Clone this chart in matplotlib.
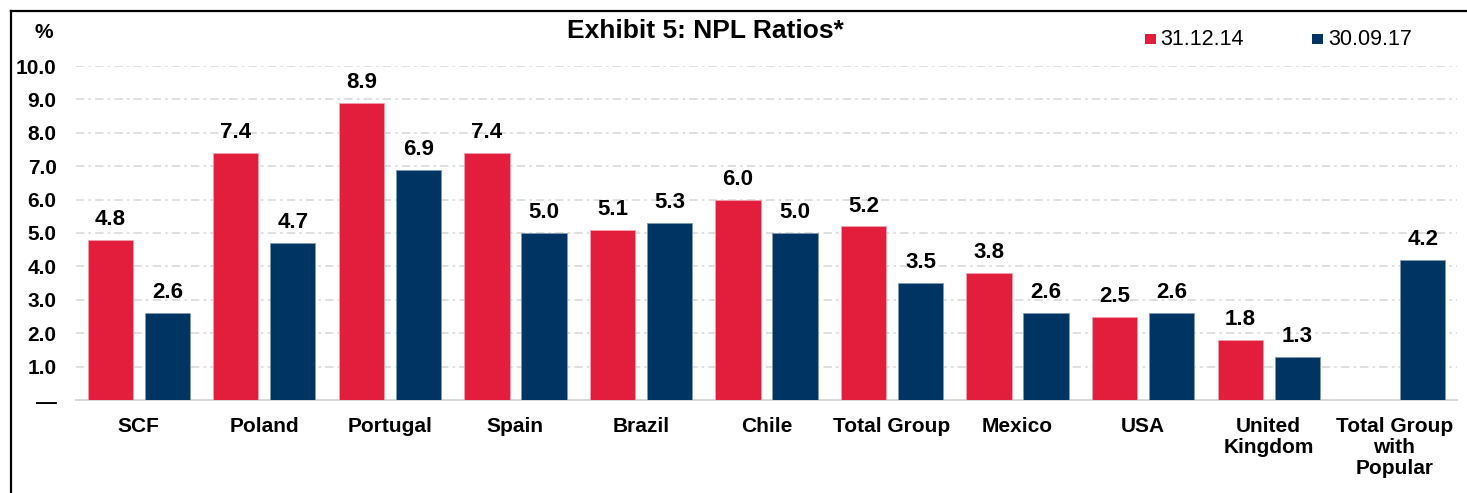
#!/usr/bin/env python3
"""
Exhibit 5: NPL ratios by unit, 31.12.14 vs 30.09.17 (grouped bars).
"""
import numpy as np
import matplotlib
matplotlib.use("Agg")
import matplotlib.pyplot as plt
from matplotlib.lines import Line2D
from matplotlib.patches import Rectangle

plt.rcParams["font.family"] = ["Liberation Sans", "DejaVu Sans"]

# --- Data ---
categories = ["SCF", "Poland", "Portugal", "Spain", "Brazil", "Chile",
              "Total Group", "Mexico", "USA", "United\nKingdom",
              "Total Group\nwith\nPopular"]
npl_2014 = [4.8, 7.4, 8.9, 7.4, 5.1, 6.0, 5.2, 3.8, 2.5, 1.8, np.nan]
npl_2017 = [2.6, 4.7, 6.9, 5.0, 5.3, 5.0, 3.5, 2.6, 2.6, 1.3, 4.2]
series_labels = ["31.12.14", "30.09.17"]
y_ticks = [0, 1, 2, 3, 4, 5, 6, 7, 8, 9, 10]
y_ticklabels = ["—"] + [f"{v:.1f}" for v in y_ticks[1:]]

RED = "#E31D3C"
BLUE = "#003463"
GRID = "#d9d9d9"

W, H = 1467, 493
fig = plt.figure(figsize=(W / 100, H / 100), dpi=100)
ax = fig.add_axes([76 / W, 1 - 400 / H, (1457 - 76) / W, (400 - 66) / H])

x = np.arange(len(categories))
bw = 0.36
off = 0.227
b1 = ax.bar(x - off, npl_2014, bw, color=RED, edgecolor="#f2a0ad", linewidth=0.6, zorder=3)
b2 = ax.bar(x + off, npl_2017, bw, color=BLUE, edgecolor="#7f99b1", linewidth=0.6, zorder=3)

for bars, vals in ((b1, npl_2014), (b2, npl_2017)):
    for rect, v in zip(bars, vals):
        if np.isnan(v):
            continue
        ax.annotate(f"{v:.1f}", (rect.get_x() + rect.get_width() / 2, v),
                    xytext=(0, 7), textcoords="offset points",
                    ha="center", va="bottom", fontsize=16, fontweight="bold")

ax.set_xlim(-0.5, len(categories) - 0.5)
ax.set_ylim(0, 10)
ax.set_yticks(y_ticks)
ax.set_yticklabels(y_ticklabels, fontsize=15, fontweight="bold")
ax.set_xticks(x)
ax.set_xticklabels(categories, fontsize=15, fontweight="bold", linespacing=1.15)
ax.tick_params(axis="both", length=0)
ax.tick_params(axis="y", pad=14)
ax.tick_params(axis="x", pad=12)

for v in y_ticks[1:]:
    ax.axhline(v, color=GRID, lw=1.2, ls=(0, (5, 2.5, 1.5, 2.5)), zorder=1)
for s in ("top", "right", "left"):
    ax.spines[s].set_visible(False)
ax.spines["bottom"].set_color(GRID)
ax.spines["bottom"].set_linewidth(1.5)

# Title, unit label
fig.text(705 / W, 1 - 31 / H, "Exhibit 5: NPL Ratios*", ha="center", va="center",
         fontsize=19, fontweight="bold")
fig.text(44 / W, 1 - 32 / H, "%", ha="center", va="center",
         fontsize=15, fontweight="bold")

# Legend (square markers + text)
for lx, tx, col, lab in ((1145, 1160, RED, series_labels[0]),
                         (1312, 1328, BLUE, series_labels[1])):
    fig.add_artist(Rectangle((lx / W, 1 - 44 / H), 11 / W, 10 / H,
                             facecolor=col, edgecolor="none"))
    fig.text(tx / W, 1 - 39.5 / H, lab, ha="left", va="center", fontsize=15.5)

# Frame lines (left and top)
fig.add_artist(Line2D([11 / W, 11 / W], [0, 1 - 10.5 / H], color="black", lw=1.6))
fig.add_artist(Line2D([11 / W, 1], [1 - 10.5 / H, 1 - 10.5 / H], color="black", lw=1.6))

fig.savefig("out.png", dpi=100)
